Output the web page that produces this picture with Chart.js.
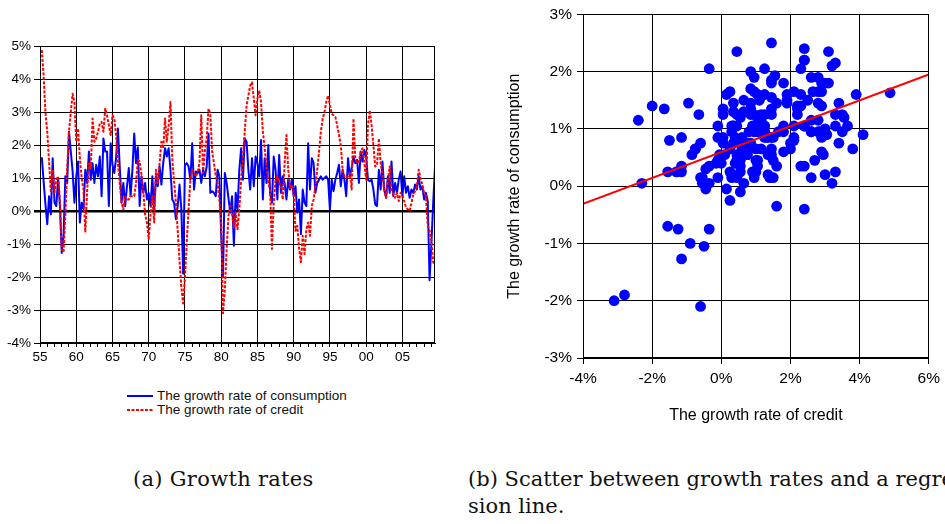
<!DOCTYPE html>
<html>
<head>
<meta charset="utf-8">
<script src="https://cdn.jsdelivr.net/npm/chart.js@4.4.1/dist/chart.umd.min.js"></script>
<style>
  html, body { margin: 0; padding: 0; background: #fff; }
  body { width: 945px; height: 524px; position: relative; overflow: hidden; }
  #growth { position: absolute; left: 0; top: 0; }
  #scatter { position: absolute; left: 470px; top: 0; }
  #legend { position: absolute; left: 127px; top: 389px; font: 13.5px "Liberation Sans", Arial, sans-serif; color: #111; }
  #legend .item { height: 14px; line-height: 14px; display: flex; align-items: center; white-space: nowrap; }
  #legend svg { margin-right: 4px; }
  .caption { position: absolute; font: 21px "DejaVu Serif", serif; line-height: 27px; color: #111; white-space: nowrap; }
</style>
</head>
<body>
<canvas id="growth" width="470" height="370"></canvas>
<canvas id="scatter" width="475" height="440"></canvas>

<div id="legend">
  <div class="item"><svg width="26" height="4"><line x1="0" y1="2" x2="26" y2="2" stroke="#0000ff" stroke-width="2"/></svg><span>The growth rate of consumption</span></div>
  <div class="item"><svg width="26" height="4"><line x1="0" y1="2" x2="26" y2="2" stroke="#ff0000" stroke-width="2" stroke-dasharray="3 1.5"/></svg><span>The growth rate of credit</span></div>
</div>

<div class="caption" style="left:133px; top:466px; letter-spacing:0.3px;">(a) Growth rates</div>
<div class="caption" style="left:468px; top:466px;">(b) Scatter between growth rates and a regres-<br>sion line.</div>

<script>
// quarterly growth rates in percent, first quarter shown is 1955.25
const startYear = 1955.25;
const quarterStep = 0.25;

const consumption = [
  1.63, 0.9, 0.2,            // 1955
  -0.4, 0.45, -0.1, 1.6,     // 1956
  0.25, 0.15, 1.0, 0.15,
  -1.27, -0.75, 1.05, 0.85,
  2.4, 1.8, 1.2, 0.25,
  1.05, 1.5, -0.35, 0.25,    // 1960
  0.05, 1.25, 0.85, 1.8,
  0.95, 1.45, 0.85, 1.4,
  1.05, 1.65, 0.45, 2.2,
  1.8, 1.8, 0.15, 2.05,
  1.4, 1.15, 1.6, 2.5,       // 1965
  1.35, 0.25, 0.85, 0.15,
  0.75, 1.3, 0.45, 1.25,
  2.35, 1.45, 1.93, 0.15,
  1.05, 0.55, 0.85, 0.35,
  0.55, 0.15, 1.05, 0.05,    // 1970
  1.05, 0.75, 1.35, 0.8,
  1.45, 1.9, 1.65, 1.9,
  1.25, 0.35, 0.25, -0.25,
  0.15, 0.8, 0.05, -1.9,
  1.4, 1.45, 1.35, 0.95,     // 1975
  2.05, 0.65, 1.2, 1.15,
  1.25, 0.85, 1.25, 1.05,
  1.35, 2.35, 0.55, 0.6,
  0.55, 0.45, 1.25, 1.05,
  -0.75, -2.0, 1.15, 0.85,   // 1980
  0.4, -0.05, 0.45, -1.05,
  0.55, 0.05, 1.25, 1.9,
  0.95, 2.2, 2.1, 1.25,
  0.65, 1.6, 0.75, 1.65,
  1.45, 1.05, 2.15, 0.35,    // 1985
  1.6, 0.85, 2.0, 0.55,
  0.25, 1.65, 1.25, 0.35,
  1.7, 0.55, 1.05, 0.85,
  0.35, 0.95, 0.65, 0.95,
  0.45, 0.75, -0.05, 0.35,   // 1990
  -0.7, 0.65, 0.25, 0.15,
  2.05, 0.65, 1.6, 1.45,
  0.55, 0.85, 0.95, 1.05,
  0.95, 1.0, 1.05, 0.95,
  0.05, 0.95, 0.6, 0.95,     // 1995
  1.15, 1.4, 0.75, 1.25,
  0.95, 0.45, 1.6, 1.05,
  1.3, 1.65, 1.45, 1.55,
  0.85, 1.8, 1.5, 1.85,
  1.65, 0.95, 0.9, 0.95,     // 2000
  0.65, 0.2, 0.15, 1.25,
  0.65, 1.5, 0.65, 0.4,
  1.05, 0.55, 1.5, 0.45,
  0.85, 0.55, 0.95, 1.2,
  0.45, 1.05, 0.55, 0.75,    // 2005
  0.4, 0.65, 0.55, 0.8,
  0.65, 1.05, 0.65, 0.75,
  0.35, 0.55, 0.3, -2.1,
  -1.0, 0.25, 1.35           // 2009
];

const credit = [
  4.88, 4.1, 3.0,            // 1955
  2.4, 1.5, 0.55, 1.25,      // 1956
  0.55, 0.95, 1.05, 0.3,
  -1.15, -1.25, -0.1, 1.3,
  2.4, 3.0, 3.55, 3.3,
  2.1, 2.5, 1.6, 1.0,        // 1960
  0.65, -0.65, 0.6, 1.45,
  1.25, 2.8, 2.1, 2.2,
  2.4, 2.65, 2.7, 2.4,
  3.1, 2.9, 2.6, 2.3,
  2.9, 2.8, 2.3, 1.45,       // 1965
  0.85, 0.25, 0.05, 0.45,
  0.35, 0.35, 0.45, 0.45,
  0.45, 0.85, 1.55, 1.5,
  1.1, 0.6, -0.1, -0.35,
  -0.85, -0.1, 0.45, -0.35,  // 1970
  1.25, 0.85, 1.45, 2.1,
  1.9, 2.8, 2.1, 2.6,
  3.3, 1.6, 0.9, 0.25,
  -0.6, -1.5, -2.3, -2.8,
  -2.0, -0.95, 0.05, 0.95,   // 1975
  1.25, 1.15, 1.05, 1.15,
  1.45, 2.9, 1.15, 1.8,
  2.2, 3.1, 2.95, 1.8,
  1.45, 1.05, 0.85, 0.35,
  -0.35, -3.1, -2.4, -1.15,  // 1980
  -0.15, 0.15, -0.1, -0.5,
  -0.05, -0.55, 0.05, 0.95,
  1.65, 2.4, 3.2, 3.5,
  3.8, 3.9, 3.4, 2.9,
  3.4, 3.65, 3.3, 2.4,       // 1985
  1.9, 1.35, 0.85, 0.65,
  -1.15, 0.25, 0.95, 1.05,
  0.85, 0.75, 0.35, 1.45,
  2.3, 1.25, 0.7, 0.8,
  0.55, -0.6, -0.45, -1.15,  // 1990
  -1.55, -0.75, -1.3, -0.55,
  -0.35, -0.75, 0.15, 0.35,
  0.75, 1.25, 1.8, 2.4,
  2.8, 3.0, 3.3, 3.5,
  3.2, 2.95, 2.9, 2.85,      // 1995
  2.6, 2.3, 2.0, 1.25,
  1.05, 1.0, 1.05, 1.15,
  0.65, 2.8, 1.6, 1.45,
  1.5, 1.8, 1.9, 1.45,
  0.95, 2.6, 3.05, 2.6,      // 2000
  2.0, 1.35, 1.4, 2.2,
  1.45, 1.1, 0.6, 0.4,
  0.9, 1.35, 0.65, 0.5,
  0.4, 0.55, 0.3, 0.55,
  0.5, 0.3, 0.1, 0.05,       // 2005
  0.0, 0.25, 0.5, 0.6,
  0.75, 1.25, 1.0, 0.8,
  0.55, 0.45, -0.45, -0.6,
  -0.9, -1.55, -1.65         // 2009
];

// fitted line, end points at credit growth -4% and 6%
const regressionCredit = [-4, 6];
const regressionConsumption = [-0.31, 1.95];

const quarterTime = i => startYear + i * quarterStep;
const consumptionPoints = consumption.map((v, i) => ({ x: quarterTime(i), y: v }));
const creditPoints = credit.map((v, i) => ({ x: quarterTime(i), y: v }));
const scatterPoints = credit.map((c, i) => ({ x: c, y: consumption[i] }));
const regressionPoints = regressionCredit.map((c, i) => ({ x: c, y: regressionConsumption[i] }));

const sans = "'Liberation Sans', Arial, Helvetica, sans-serif";

// box around the plotting area
const frame = {
  id: 'frame',
  afterDraw(chart) {
    const { ctx, chartArea: a } = chart;
    const l = Math.round(a.left) + 0.5, t = Math.round(a.top) + 0.5;
    const r = Math.round(a.right) - 0.5, b = Math.round(a.bottom) - 0.5;
    ctx.save();
    ctx.strokeStyle = '#000';
    ctx.lineWidth = 1;
    ctx.strokeRect(l, t, r - l, b - t);
    ctx.restore();
  }
};

new Chart(document.getElementById('growth'), {
  type: 'line',
  data: {
    datasets: [
      {
        label: 'The growth rate of consumption',
        data: consumptionPoints,
        borderColor: '#0000ff',
        borderWidth: 2,
        pointRadius: 0,
        order: 1
      },
      {
        label: 'The growth rate of credit',
        data: creditPoints,
        borderColor: '#ff0000',
        borderWidth: 2,
        borderDash: [3, 1.5],
        pointRadius: 0,
        order: 0
      }
    ]
  },
  options: {
    responsive: false,
    animation: false,
    events: [],
    layout: { padding: { top: 46, right: 35, left: 0, bottom: 0 } },
    plugins: { legend: { display: false }, tooltip: { enabled: false } },
    elements: { line: { tension: 0, borderJoinStyle: 'round' } },
    scales: {
      x: {
        type: 'linear',
        min: 1955,
        max: 2009.5,
        afterFit: s => { s.height = 27; },
        ticks: {
          stepSize: 1,
          autoSkip: false,
          includeBounds: false,
          maxRotation: 0,
          padding: 2,
          color: '#000',
          font: { family: sans, size: 13.5 },
          callback: v => (v % 5 === 0 ? String(v % 100).padStart(2, '0') : '')
        },
        grid: {
          color: c => (c.tick && c.tick.value % 5 === 0 ? '#000' : 'rgba(0,0,0,0)'),
          tickColor: '#000',
          tickLength: 4
        },
        border: { color: '#000' }
      },
      y: {
        min: -4,
        max: 5,
        afterFit: s => { s.width = 40; },
        ticks: {
          stepSize: 1,
          padding: 3,
          color: '#000',
          font: { family: sans, size: 13.5 },
          callback: v => v + '%'
        },
        grid: {
          color: '#000',
          tickLength: 6,
          lineWidth: c => (c.tick && c.tick.value === 0 ? 2.5 : 1)
        },
        border: { color: '#000' }
      }
    }
  },
  plugins: [frame]
});

new Chart(document.getElementById('scatter'), {
  type: 'scatter',
  data: {
    datasets: [
      {
        type: 'line',
        data: regressionPoints,
        borderColor: '#ff0000',
        borderWidth: 2,
        pointRadius: 0,
        order: 0
      },
      {
        data: scatterPoints,
        backgroundColor: '#0000ff',
        borderWidth: 0,
        pointRadius: 5.4,
        order: 1
      }
    ]
  },
  options: {
    responsive: false,
    animation: false,
    events: [],
    layout: { padding: { top: 11, right: 15, left: 0, bottom: 0 } },
    plugins: { legend: { display: false }, tooltip: { enabled: false } },
    scales: {
      x: {
        type: 'linear',
        min: -4,
        max: 6,
        afterFit: s => { s.height = 82; },
        ticks: {
          stepSize: 2,
          padding: 5,
          color: '#000',
          font: { family: sans, size: 15.5 },
          callback: v => v + '%'
        },
        grid: { color: '#000', tickLength: 6 },
        border: { color: '#000' },
        title: {
          display: true,
          text: 'The growth rate of credit',
          color: '#000',
          font: { family: sans, size: 16 },
          padding: { top: 0, bottom: 15 }
        }
      },
      y: {
        min: -3,
        max: 3,
        afterFit: s => { s.width = 113; },
        ticks: {
          stepSize: 1,
          padding: 5,
          color: '#000',
          font: { family: sans, size: 15.5 },
          callback: v => v + '%'
        },
        grid: { color: '#000', tickLength: 6 },
        border: { color: '#000' },
        title: {
          display: true,
          text: 'The growth rate of consumption',
          color: '#000',
          font: { family: sans, size: 16 },
          padding: { top: 35, bottom: 0 }
        }
      }
    }
  },
  plugins: [frame]
});
</script>
</body>
</html>
